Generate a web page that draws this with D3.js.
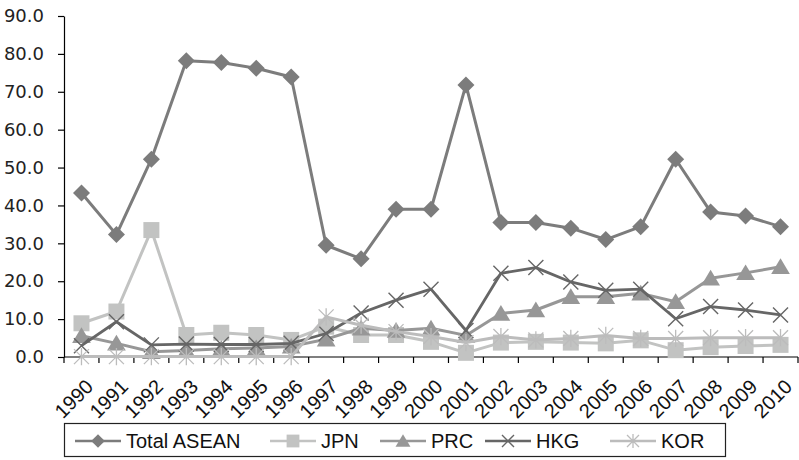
<!DOCTYPE html>
<html>
<head>
<meta charset="utf-8">
<script src="https://cdn.jsdelivr.net/npm/d3@7"></script>
<style>
  html, body { margin: 0; padding: 0; background: #fff; }
  svg { display: block; }
</style>
</head>
<body>
<svg id="chart" width="799" height="460"></svg>
<script>
// Years on the category axis
const years = ["1990","1991","1992","1993","1994","1995","1996","1997","1998","1999","2000",
               "2001","2002","2003","2004","2005","2006","2007","2008","2009","2010"];

// Series values (percent)
const totalAsean = [43.3,32.3,52.2,78.2,77.7,76.2,73.9,29.5,25.9,39.0,39.0,71.8,35.5,35.5,34.0,31.0,34.4,52.2,38.3,37.2,34.4];
const jpn        = [8.9,12.0,33.5,5.8,6.4,5.8,4.5,8.0,5.8,5.8,4.0,1.1,3.8,4.0,3.8,3.6,4.4,1.8,2.6,2.9,3.2];
const prc        = [5.6,3.6,1.4,1.7,2.2,2.4,2.8,4.7,7.6,7.0,7.6,5.7,11.5,12.4,15.9,15.9,16.8,14.6,20.8,22.2,23.8];
const hkg        = [3.0,9.3,3.2,3.4,3.3,3.3,3.6,6.2,11.6,15.0,17.9,7.0,22.1,23.6,19.8,17.6,17.9,10.1,13.3,12.4,11.1];
const kor        = [0.1,0.1,0.1,0.1,0.1,0.1,0.1,10.6,8.4,6.7,5.4,3.8,5.4,4.5,4.9,5.7,4.9,4.9,5.1,5.1,5.1];

// Value-axis ticks
const yTicks = [0,10,20,30,40,50,60,70,80,90];

// Marker shapes (size argument used as a half-width)
const diamond = { draw(c, r) { c.moveTo(0,-r); c.lineTo(r,0); c.lineTo(0,r); c.lineTo(-r,0); c.closePath(); } };
const square  = { draw(c, r) { c.rect(-r,-r,2*r,2*r); } };
const triangle= { draw(c, r) { c.moveTo(0,-r); c.lineTo(r*1.1,r*0.85); c.lineTo(-r*1.1,r*0.85); c.closePath(); } };
const times   = { draw(c, r) { c.moveTo(-r,-r); c.lineTo(r,r); c.moveTo(r,-r); c.lineTo(-r,r); } };
const asterisk= { draw(c, r) { c.moveTo(-r,-r); c.lineTo(r,r); c.moveTo(r,-r); c.lineTo(-r,r); c.moveTo(0,-r*1.15); c.lineTo(0,r*1.15); } };

const series = [
  { name: "Total ASEAN", values: totalAsean, color: "#7c7c7c", width: 3,   shape: diamond,  r: 8.5, filled: true,  mStroke: 0 },
  { name: "JPN",         values: jpn,        color: "#c2c3c2", width: 3,   shape: square,   r: 8,   filled: true,  mStroke: 0 },
  { name: "PRC",         values: prc,        color: "#979797", width: 3,   shape: triangle, r: 8.5, filled: true,  mStroke: 0 },
  { name: "HKG",         values: hkg,        color: "#666666", width: 2.8, shape: times,    r: 7.5, filled: false, mStroke: 1.4 },
  { name: "KOR",         values: kor,        color: "#bcbcbc", width: 3,   shape: asterisk, r: 7.5, filled: false, mStroke: 1.3 }
];

const svg = d3.select("#chart");
const plotLeft = 64, plotRight = 798, plotTop = 16, plotBottom = 357;

const x = d3.scaleBand().domain(years).range([plotLeft, plotRight]).padding(0);
const y = d3.scaleLinear().domain([0, 90]).range([plotBottom, plotTop]);
const cx = d => x(d) + x.bandwidth() / 2;

// Value axis
const yAxis = svg.append("g")
  .attr("transform", `translate(${plotLeft},0)`)
  .call(d3.axisLeft(y).tickValues(yTicks).tickFormat(d3.format(".1f")).tickSize(6).tickSizeOuter(0).tickPadding(14));
yAxis.select(".domain").attr("stroke", "#000").attr("stroke-width", 1.2);
yAxis.selectAll(".tick line").attr("stroke", "#000").attr("stroke-width", 1.2);
yAxis.selectAll(".tick text")
  .attr("font-family", "'DejaVu Sans', Verdana, sans-serif")
  .attr("font-size", 18).attr("fill", "#222");

// Category axis: baseline and boundary ticks
const xAxis = svg.append("g");
xAxis.append("line")
  .attr("x1", plotLeft).attr("x2", plotRight).attr("y1", plotBottom).attr("y2", plotBottom)
  .attr("stroke", "#000").attr("stroke-width", 1.2);
const boundaries = years.map(d => x(d)).concat([x(years[years.length - 1]) + x.bandwidth()]);
xAxis.selectAll("line.tick").data(boundaries).join("line")
  .attr("class", "tick")
  .attr("x1", d => d).attr("x2", d => d)
  .attr("y1", plotBottom).attr("y2", plotBottom + 6)
  .attr("stroke", "#000").attr("stroke-width", 1.2);
xAxis.selectAll("text").data(years).join("text")
  .attr("transform", d => `translate(${cx(d) + 8},${plotBottom + 26}) rotate(-45)`)
  .attr("text-anchor", "end")
  .attr("dy", "0.35em")
  .attr("font-family", "'Liberation Sans', Arial, sans-serif")
  .attr("font-size", 20).attr("fill", "#111")
  .text(d => d);

// Lines and markers
const line = d3.line().x((v, i) => cx(years[i])).y(v => y(v));
const plot = svg.append("g");
series.forEach(s => {
  const g = plot.append("g");
  g.append("path")
    .attr("d", line(s.values))
    .attr("fill", "none").attr("stroke", s.color)
    .attr("stroke-width", s.width).attr("stroke-linejoin", "round");
  g.selectAll("path.m").data(s.values).join("path")
    .attr("class", "m")
    .attr("transform", (v, i) => `translate(${cx(years[i])},${y(v)})`)
    .attr("d", d3.symbol().type(s.shape).size(s.r))
    .attr("fill", s.filled ? s.color : "none")
    .attr("stroke", s.filled ? "none" : s.color)
    .attr("stroke-width", s.mStroke);
});

// Legend
const legend = svg.append("g");
legend.append("rect")
  .attr("x", 64.5).attr("y", 423.5).attr("width", 661).attr("height", 33)
  .attr("fill", "none").attr("stroke", "#222").attr("stroke-width", 1.2);
const legendX = [75, 270, 380, 485, 610];
series.forEach((s, i) => {
  const lx = legendX[i], ly = 441;
  const g = legend.append("g").attr("transform", `translate(${lx},${ly})`);
  g.append("line").attr("x1", 0).attr("x2", 46).attr("y1", 0).attr("y2", 0)
    .attr("stroke", s.color).attr("stroke-width", 2.5);
  g.append("path")
    .attr("transform", "translate(23,0)")
    .attr("d", d3.symbol().type(s.shape).size(s.r * 0.8))
    .attr("fill", s.filled ? s.color : "none")
    .attr("stroke", s.filled ? "none" : s.color)
    .attr("stroke-width", s.mStroke);
  g.append("text")
    .attr("x", 51).attr("y", 0).attr("dy", "0.35em")
    .attr("font-family", "'Liberation Sans', Arial, sans-serif")
    .attr("font-size", 20).attr("fill", "#111")
    .text(s.name);
});
</script>
</body>
</html>
